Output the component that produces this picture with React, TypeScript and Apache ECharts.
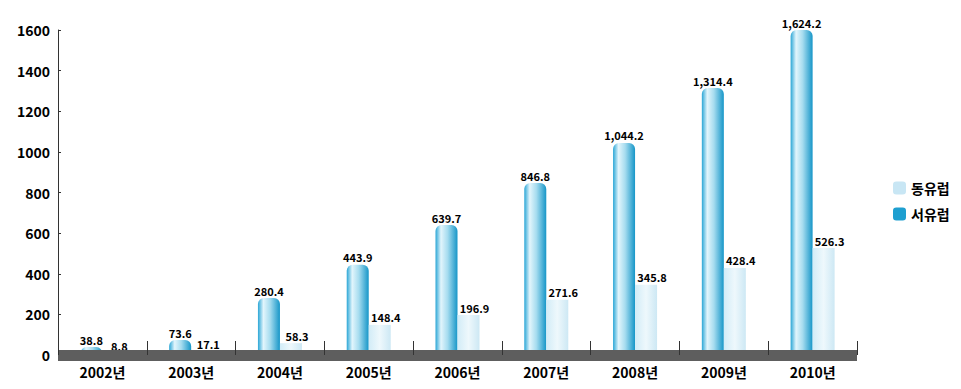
import React, { useEffect, useRef } from "react";
import * as echarts from "echarts";

const categories = ["2002년", "2003년", "2004년", "2005년", "2006년", "2007년", "2008년", "2009년", "2010년"];
const westEurope = [38.8, 73.6, 280.4, 443.9, 639.7, 846.8, 1044.2, 1314.4, 1624.2];
const eastEurope = [8.8, 17.1, 58.3, 148.4, 196.9, 271.6, 345.8, 428.4, 526.3];
const yTicks = [0, 200, 400, 600, 800, 1000, 1200, 1400, 1600];

const FONT = "'Noto Sans CJK KR', 'Noto Sans', sans-serif";

const fmt = (v: number) =>
  v.toLocaleString("en-US", { minimumFractionDigits: 1, maximumFractionDigits: 1 });

export default function App() {
  const ref = useRef<HTMLDivElement>(null);
  useEffect(() => {
    if (!ref.current) return;
    const chart = echarts.init(ref.current, undefined, { renderer: "svg" });
    const darkGrad = new echarts.graphic.LinearGradient(0, 0, 1, 0, [
      { offset: 0, color: "#2aa6d6" },
      { offset: 0.25, color: "#e2f5fc" },
      { offset: 0.55, color: "#a6dcef" },
      { offset: 1, color: "#1696c8" },
    ]);
    const lightGrad = new echarts.graphic.LinearGradient(0, 0, 1, 0, [
      { offset: 0, color: "#d2ecf7" },
      { offset: 0.5, color: "#eef8fc" },
      { offset: 1, color: "#cde8f4" },
    ]);
    chart.setOption({
      animation: false,
      backgroundColor: "#ffffff",
      textStyle: { fontFamily: FONT },
      grid: { left: 58, right: 104, top: 30, bottom: 34, containLabel: false },
      legend: {
        orient: "vertical",
        left: 888,
        top: 176,
        itemWidth: 13,
        itemHeight: 13,
        itemGap: 12,
        textStyle: { fontFamily: FONT, fontSize: 14, fontWeight: "bold", color: "#000" },
        data: [
          { name: "동유럽", itemStyle: { color: "#c8e6f4" } },
          { name: "서유럽", itemStyle: { color: "#1e9fd0" } },
        ],
      },
      xAxis: {
        type: "category",
        data: categories,
        z: 5,
        axisLine: { show: true, lineStyle: { color: "#5e5e5e", width: 11, cap: "butt" } },
        axisTick: { show: true, inside: true, length: 14, lineStyle: { color: "#333", width: 1 } },
        axisLabel: {
          fontFamily: FONT,
          fontSize: 14,
          fontWeight: "bold",
          color: "#000",
          margin: 10,
        },
      },
      yAxis: {
        type: "value",
        min: 0,
        max: 1600,
        interval: 200,
        axisLine: { show: true, lineStyle: { color: "#333", width: 1 } },
        axisTick: { show: true, inside: true, length: 3, lineStyle: { color: "#333" } },
        splitLine: { show: false },
        axisLabel: {
          fontFamily: FONT,
          fontSize: 14,
          fontWeight: "bold",
          color: "#000",
          margin: 8,
          formatter: (v: number) => String(v),
        },
      },
      series: [
        {
          name: "서유럽",
          type: "bar",
          data: westEurope,
          barWidth: 22,
          barGap: "0%",
          itemStyle: { color: darkGrad, borderRadius: [6, 6, 0, 0] },
          label: {
            show: true,
            position: "top",
            distance: 2,
            fontFamily: FONT,
            fontSize: 11,
            fontWeight: "bold",
            color: "#000",
            formatter: (p: any) => fmt(p.value),
          },
        },
        {
          name: "동유럽",
          type: "bar",
          data: eastEurope,
          barWidth: 22,
          itemStyle: { color: lightGrad },
          label: {
            show: true,
            position: "top",
            distance: 2,
            offset: [6, 0],
            fontFamily: FONT,
            fontSize: 11,
            fontWeight: "bold",
            color: "#000",
            formatter: (p: any) => fmt(p.value),
          },
        },
      ],
    });
    return () => chart.dispose();
  }, []);
  return <div ref={ref} style={{ width: 961, height: 389, margin: -8 }} />;
}
